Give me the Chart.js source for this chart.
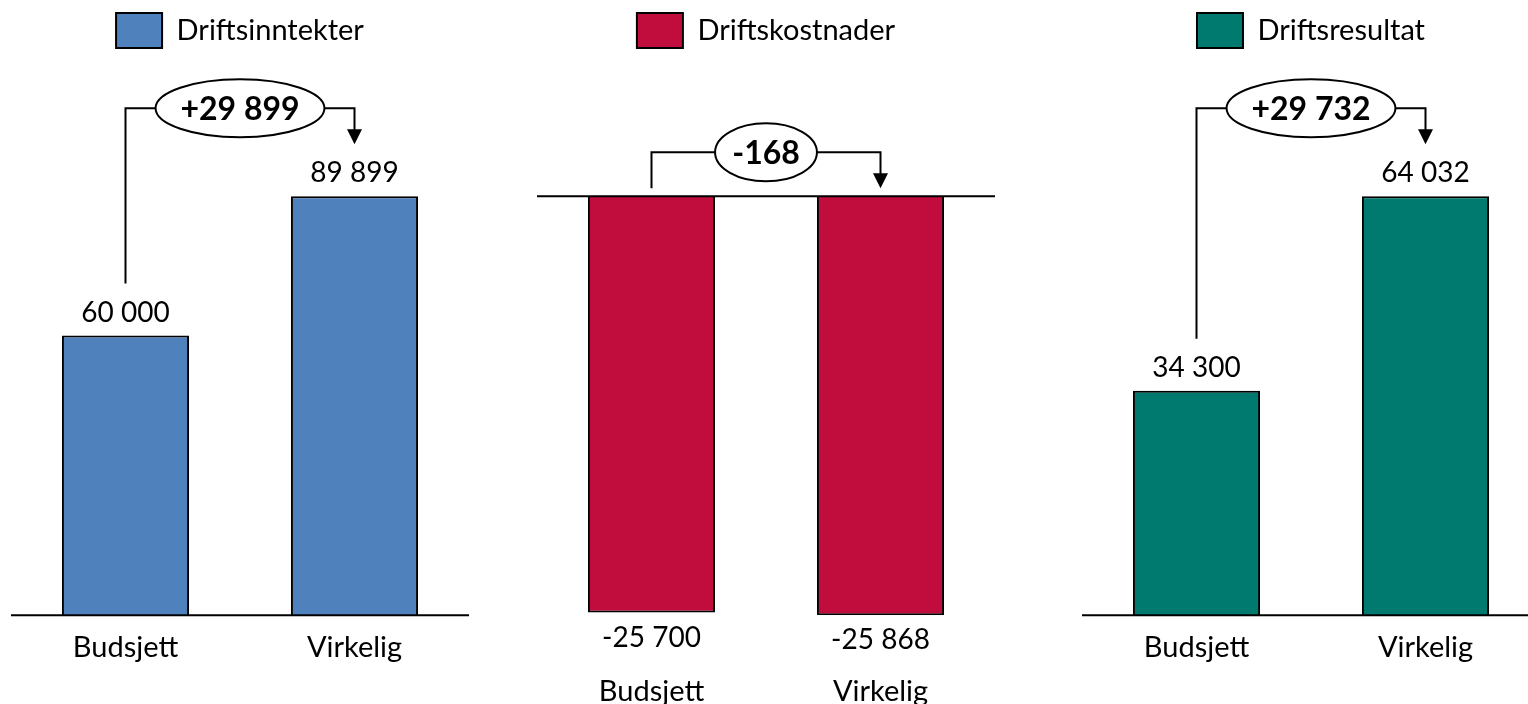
<!DOCTYPE html>
<html>
<head>
<meta charset="utf-8">
<script src="https://cdn.jsdelivr.net/npm/chart.js@4.4.1/dist/chart.umd.min.js"></script>
<style>
html, body { margin: 0; padding: 0; background: #fff; overflow: hidden; width: 1528px; height: 704px; }
.panel { position: absolute; top: 0; width: 480px; height: 780px; }
</style>
</head>
<body>
<div class="panel" style="left:0px"><canvas id="c1" width="480" height="780"></canvas></div>
<div class="panel" style="left:526px"><canvas id="c2" width="480" height="780"></canvas></div>
<div class="panel" style="left:1071px"><canvas id="c3" width="480" height="780"></canvas></div>
<script>
var categories = ["Budsjett", "Virkelig"];
var seriesNames = ["Driftsinntekter", "Driftskostnader", "Driftsresultat"];
var inntekter = [60000, 89899];
var kostnader = [-25700, -25868];
var resultat = [34300, 64032];
var colors = ['#4F81BD', '#C00D3D', '#00796F'];

Chart.defaults.font.family = "Lato, 'Open Sans', sans-serif";
Chart.defaults.color = '#000';

function fmt(v) {
    var s = Math.abs(v).toString().replace(/\B(?=(\d{3})+(?!\d))/g, ' ');
    return (v < 0 ? '-' : '') + s;
}

// baseline, value labels and the ellipse with the change between the two bars
var deltaPlugin = {
    id: 'delta',
    afterDatasetsDraw: function(chart) {
        var c = chart.ctx, x = chart.scales.x, y = chart.scales.y, area = chart.chartArea;
        var vals = chart.data.datasets[0].data;
        var zero = y.getPixelForValue(0);
        c.save();
        c.strokeStyle = '#000';
        c.lineWidth = 2;
        c.beginPath();
        c.moveTo(area.left, zero);
        c.lineTo(area.right, zero);
        c.stroke();

        c.font = '28px Lato';
        c.fillStyle = '#000';
        c.textAlign = 'center';
        c.textBaseline = 'middle';
        var xs = [], ends = [];
        vals.forEach(function(v, i) {
            var px = x.getPixelForValue(i), py = y.getPixelForValue(v);
            c.fillText(fmt(v), px, v >= 0 ? py - 23 : py + 25);
            xs.push(px);
            ends.push(v >= 0 ? py - 52 : zero - 8);
        });

        var d = vals[1] - vals[0];
        var txt = (d > 0 ? '+' : '') + fmt(d);
        var lineY = Math.min(ends[0], ends[1]) - 36;
        var cx = (xs[0] + xs[1]) / 2;
        c.font = 'bold 32px Lato';
        var tw = c.measureText(txt).width;
        var rx = (tw * 1.3 + 14) / 2, ry = 29;

        c.lineWidth = 2;
        c.beginPath();
        c.moveTo(xs[0], ends[0]);
        c.lineTo(xs[0], lineY);
        c.lineTo(cx - rx, lineY);
        c.moveTo(cx + rx, lineY);
        c.lineTo(xs[1], lineY);
        c.lineTo(xs[1], ends[1] - 14);
        c.stroke();
        c.beginPath();
        c.moveTo(xs[1] - 7.5, ends[1] - 15);
        c.lineTo(xs[1] + 7.5, ends[1] - 15);
        c.lineTo(xs[1], ends[1]);
        c.closePath();
        c.fill();

        c.beginPath();
        c.ellipse(cx, lineY, rx, ry, 0, 0, Math.PI * 2);
        c.fillStyle = '#fff';
        c.fill();
        c.stroke();
        c.fillStyle = '#000';
        c.fillText(txt, cx, lineY + 1);
        c.restore();
    }
};

function makeChart(id, name, values, color, yMin, yMax, tickPad, bottomPad) {
    return new Chart(document.getElementById(id), {
        type: 'bar',
        data: {
            labels: categories,
            datasets: [{
                label: name,
                data: values,
                backgroundColor: color,
                borderColor: '#000',
                borderWidth: 2,
                barPercentage: 0.555,
                categoryPercentage: 1
            }]
        },
        options: {
            responsive: false,
            animation: false,
            layout: { padding: { top: 3, left: 11, right: 11, bottom: bottomPad } },
            plugins: {
                legend: {
                    position: 'top',
                    labels: { boxWidth: 46, boxHeight: 35, padding: 10, color: '#000', font: { size: 29 } }
                },
                tooltip: { enabled: false }
            },
            scales: {
                x: {
                    grid: { display: false, drawTicks: false },
                    border: { display: false },
                    ticks: { padding: tickPad, color: '#000', font: { size: 29 } }
                },
                y: { display: false, min: yMin, max: yMax }
            }
        },
        plugins: [deltaPlugin]
    });
}

// plot area 58..614 px, tallest bar 418 px
var head = 556 / 418;
makeChart('c1', seriesNames[0], inntekter, colors[0], 0, Math.max.apply(null, inntekter) * head, 15, 100);
var kMin = Math.min.apply(null, kostnader);
makeChart('c2', seriesNames[1], kostnader, colors[1], kMin, -kMin * (head - 1), 59, 12);
makeChart('c3', seriesNames[2], resultat, colors[2], 0, Math.max.apply(null, resultat) * head, 15, 100);
</script>
</body>
</html>
